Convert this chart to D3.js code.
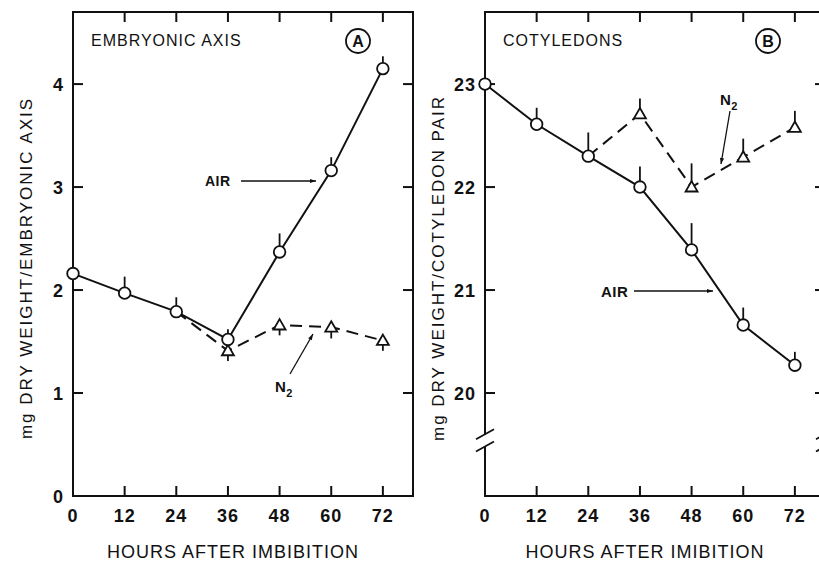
<!DOCTYPE html>
<html>
<head>
<meta charset="utf-8">
<script src="https://cdn.jsdelivr.net/npm/d3@7"></script>
<style>
  body { margin: 0; background: #fff; }
  svg text { font-family: "Liberation Sans", Arial, sans-serif; fill: #111; }
</style>
</head>
<body>
<svg id="chart" width="819" height="563"></svg>
<script>
// hours after imbibition
const hours = [0, 12, 24, 36, 48, 60, 72];
const n2Hours = [24, 36, 48, 60, 72];

// panel A: embryonic axis (mg dry weight)
const axisAir = [2.16, 1.97, 1.79, 1.52, 2.37, 3.16, 4.15];
const axisAirErr = [2.16, 2.13, 1.93, 1.62, 2.55, 3.29, 4.27];
const axisN2 = [1.79, 1.41, 1.66, 1.64, 1.51];
const axisN2Err = [1.79, 1.31, 1.56, 1.53, 1.41];

// panel B: cotyledon pair (mg dry weight)
const cotAir = [23.0, 22.61, 22.30, 22.00, 21.39, 20.66, 20.27];
const cotAirErr = [23.0, 22.77, 22.53, 22.20, 21.65, 20.83, 20.40];
const cotN2 = [22.30, 22.71, 22.00, 22.29, 22.58];
const cotN2Err = [22.30, 22.86, 22.23, 22.47, 22.74];

const xTicks = [0, 12, 24, 36, 48, 60, 72];
const yTicksA = [0, 1, 2, 3, 4];
const yTicksB = [20, 21, 22, 23];

const svg = d3.select('#chart');

svg.append('defs').append('marker')
    .attr('id', 'arrow')
    .attr('viewBox', '0 0 10 10')
    .attr('refX', 10).attr('refY', 5)
    .attr('markerWidth', 9).attr('markerHeight', 6)
    .attr('markerUnits', 'userSpaceOnUse')
    .attr('orient', 'auto')
    .append('path')
    .attr('d', 'M0,1.5 L10,5 L0,8.5 Z')
    .attr('fill', '#111');

function drawPanel(cfg) {
    const x = d3.scaleLinear().domain([0, 79]).range(cfg.xRange);
    const y = d3.scaleLinear().domain(cfg.yDomain).range([496, 12]);
    const g = svg.append('g');
    const [x0, x1] = cfg.xRange;
    const y0 = 496, y1 = 12;
    const tick = 10;

    // frame
    const frame = g.append('g').attr('stroke', '#111').attr('stroke-width', 2).attr('fill', 'none');
    frame.append('line').attr('x1', x0 - 1).attr('x2', x1 + 1).attr('y1', y0).attr('y2', y0);
    frame.append('line').attr('x1', x0 - 1).attr('x2', x1 + 1).attr('y1', y1).attr('y2', y1);
    if (cfg.breakAt) {
        const bTop = y(cfg.breakAt[1]), bBot = y(cfg.breakAt[0]);
        [x0, x1].forEach(xx => {
            frame.append('line').attr('x1', xx).attr('x2', xx).attr('y1', y1).attr('y2', bTop);
            frame.append('line').attr('x1', xx).attr('x2', xx).attr('y1', bBot).attr('y2', y0);
            frame.append('line').attr('x1', xx - 9).attr('x2', xx + 9).attr('y1', bTop + 5).attr('y2', bTop - 5)
                .attr('stroke-width', 1.8);
            frame.append('line').attr('x1', xx - 9).attr('x2', xx + 9).attr('y1', bBot + 5).attr('y2', bBot - 5)
                .attr('stroke-width', 1.8);
        });
    } else {
        frame.append('line').attr('x1', x0).attr('x2', x0).attr('y1', y1).attr('y2', y0);
        frame.append('line').attr('x1', x1).attr('x2', x1).attr('y1', y1).attr('y2', y0);
    }

    // ticks (inward, all four sides)
    const tk = g.append('g').attr('stroke', '#111').attr('stroke-width', 2);
    xTicks.filter(d => d > 0).forEach(d => {
        tk.append('line').attr('x1', x(d)).attr('x2', x(d)).attr('y1', y0).attr('y2', y0 - tick);
        tk.append('line').attr('x1', x(d)).attr('x2', x(d)).attr('y1', y1).attr('y2', y1 + tick);
    });
    cfg.yTicks.filter(d => d > cfg.yDomain[0]).forEach(d => {
        tk.append('line').attr('x1', x0).attr('x2', x0 + tick).attr('y1', y(d)).attr('y2', y(d));
        tk.append('line').attr('x1', x1).attr('x2', x1 - tick).attr('y1', y(d)).attr('y2', y(d));
    });

    // tick labels
    g.selectAll('.xl').data(xTicks).enter().append('text')
        .attr('x', d => x(d)).attr('y', 522)
        .attr('text-anchor', 'middle')
        .style('font-size', '18px').style('font-weight', 'bold').style('letter-spacing', '1px')
        .text(d => d);
    g.selectAll('.yl').data(cfg.yTicks).enter().append('text')
        .attr('x', x0 - 9).attr('y', d => y(d) + 6.5)
        .attr('text-anchor', 'end')
        .style('font-size', '18px').style('font-weight', 'bold').style('letter-spacing', '1px')
        .text(d => d);

    // axis titles
    g.append('text')
        .attr('x', cfg.xTitleX).attr('y', 558)
        .attr('text-anchor', 'middle')
        .style('font-size', '18px').style('letter-spacing', '1px')
        .text(cfg.xTitle);
    g.append('text')
        .attr('transform', `translate(${cfg.yTitleX},268) rotate(-90)`)
        .attr('text-anchor', 'middle')
        .style('font-size', '17px').style('letter-spacing', '2px')
        .text(cfg.yTitle);

    // panel title and letter
    g.append('text')
        .attr('x', x0 + 18).attr('y', 46)
        .style('font-size', '16px').style('letter-spacing', '1px')
        .text(cfg.title);
    g.append('circle').attr('cx', cfg.letterX).attr('cy', 41).attr('r', 12)
        .attr('fill', 'none').attr('stroke', '#111').attr('stroke-width', 1.8);
    g.append('text')
        .attr('x', cfg.letterX).attr('y', 47)
        .attr('text-anchor', 'middle')
        .style('font-size', '16px').style('font-weight', 'bold')
        .text(cfg.letter);

    const air = hours.map((h, i) => ({ h, v: cfg.air[i], e: cfg.airErr[i] }));
    const n2 = n2Hours.map((h, i) => ({ h, v: cfg.n2[i], e: cfg.n2Err[i] }));

    // error bars
    g.selectAll('.eb').data(air.concat(n2.slice(1))).enter().append('line')
        .attr('x1', d => x(d.h)).attr('x2', d => x(d.h))
        .attr('y1', d => y(d.v)).attr('y2', d => y(d.e))
        .attr('stroke', '#111').attr('stroke-width', 1.8);

    const line = d3.line().x(d => x(d.h)).y(d => y(d.v));
    g.append('path').datum(n2).attr('d', line)
        .attr('fill', 'none').attr('stroke', '#111').attr('stroke-width', 2)
        .attr('stroke-dasharray', '12,7');
    g.append('path').datum(air).attr('d', line)
        .attr('fill', 'none').attr('stroke', '#111').attr('stroke-width', 2);

    // markers
    g.selectAll('.tri').data(n2.slice(1)).enter().append('path')
        .attr('d', d3.symbol().type(d3.symbolTriangle).size(62))
        .attr('transform', d => `translate(${x(d.h)},${y(d.v) + 1})`)
        .attr('fill', '#fff').attr('stroke', '#111').attr('stroke-width', 1.8);
    g.selectAll('.dot').data(air).enter().append('circle')
        .attr('cx', d => x(d.h)).attr('cy', d => y(d.v)).attr('r', 5.8)
        .attr('fill', '#fff').attr('stroke', '#111').attr('stroke-width', 1.8);

    // annotations
    cfg.labels.forEach(l => {
        const t = g.append('text').attr('x', l.tx).attr('y', l.ty)
            .style('font-size', l.size + 'px').style('font-weight', 'bold').style('letter-spacing', '0.5px');
        if (l.text === 'N2') {
            t.append('tspan').text('N');
            t.append('tspan').attr('dy', 5).style('font-size', '11px').text('2');
        } else {
            t.text(l.text);
        }
        g.append('line')
            .attr('x1', l.a[0]).attr('y1', l.a[1]).attr('x2', l.a[2]).attr('y2', l.a[3])
            .attr('stroke', '#111').attr('stroke-width', 1.3)
            .attr('marker-end', 'url(#arrow)');
    });
}

drawPanel({
    xRange: [73, 413],
    yDomain: [0, 4.7],
    yTicks: yTicksA,
    air: axisAir, airErr: axisAirErr, n2: axisN2, n2Err: axisN2Err,
    title: 'EMBRYONIC  AXIS', letter: 'A', letterX: 358,
    xTitle: 'HOURS AFTER IMBIBITION', xTitleX: 233,
    yTitle: 'mg DRY WEIGHT/EMBRYONIC AXIS', yTitleX: 32,
    labels: [
        { text: 'AIR', size: 14, tx: 205, ty: 186, a: [241, 181, 316, 181] },
        { text: 'N2', size: 15, tx: 275, ty: 392, a: [290, 374, 313, 334] }
    ]
});

drawPanel({
    xRange: [485, 825],
    yDomain: [19, 23.7],
    yTicks: yTicksB,
    breakAt: [19.48, 19.6],
    air: cotAir, airErr: cotAirErr, n2: cotN2, n2Err: cotN2Err,
    title: 'COTYLEDONS', letter: 'B', letterX: 768,
    xTitle: 'HOURS AFTER IMIBITION', xTitleX: 645,
    yTitle: 'mg DRY WEIGHT/COTYLEDON PAIR', yTitleX: 444,
    labels: [
        { text: 'AIR', size: 15, tx: 601, ty: 297, a: [634, 291, 713, 291] },
        { text: 'N2', size: 15, tx: 720, ty: 105, a: [730, 111, 721, 164] }
    ]
});
</script>
</body>
</html>
